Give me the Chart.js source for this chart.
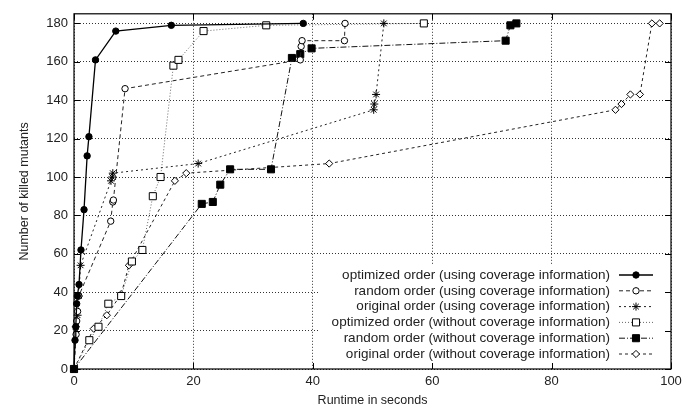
<!DOCTYPE html>
<html>
<head>
<meta charset="utf-8">
<script src="https://cdn.jsdelivr.net/npm/chart.js@4"></script>
<style>
  html, body { margin: 0; padding: 0; background: #fff; }
  #wrap { width: 697px; height: 412px; }
</style>
</head>
<body>
<div id="wrap"><canvas id="chart"></canvas></div>
<script>
// runtime (s) and killed mutants, per ordering
const optCovX = [0, 0.17, 0.3, 0.45, 0.56, 0.84, 1.17, 1.68, 2.2, 2.5, 3.6, 7.0, 16.3, 38.4];
const optCovY = [0, 15, 22, 34, 38, 44, 62, 83, 111, 121, 161, 176, 179, 180];
const rndCovX = [0, 0.35, 0.45, 0.6, 0.8, 6.15, 6.5, 6.6, 8.55, 37.9, 38.05, 38.2, 45.3, 45.4];
const rndCovY = [0, 18, 25, 30, 38, 77, 87, 88, 146, 161, 168, 171, 171, 180];
const orgCovX = [0, 0.3, 0.6, 0.8, 1.1, 6.2, 6.4, 6.5, 20.8, 50.2, 50.3, 50.6, 51.9];
const orgCovY = [0, 22, 28, 38, 54, 98, 100, 102, 107, 135, 138, 143, 180];
const optNoX = [0, 2.57, 4.1, 5.75, 7.9, 9.7, 11.45, 13.2, 14.5, 16.65, 17.5, 21.7, 32.2, 58.6];
const optNoY = [0, 15, 22, 34, 38, 56, 62, 90, 100, 158, 161, 176, 179, 180];
const rndNoX = [0, 21.4, 23.25, 24.5, 26.15, 33.0, 36.5, 37.9, 39.8, 72.3, 73.1, 74.1];
const rndNoY = [0, 86, 87, 96, 104, 104, 162, 164, 167, 171, 179, 180];
const orgNoX = [0, 3.3, 5.5, 7.9, 9.2, 16.9, 18.8, 42.75, 90.7, 91.7, 93.2, 94.8, 96.8, 98.1];
const orgNoY = [0, 21, 28, 39, 54, 98, 102, 107, 135, 138, 143, 143, 180, 180];

const seriesLabels = [
  "optimized order (using coverage information)",
  "random order (using coverage information)",
  "original order (using coverage information)",
  "optimized order (without coverage information)",
  "random order (without coverage information)",
  "original order (without coverage information)"
];
const xTicks = [0, 20, 40, 60, 80, 100];
const yTicks = [0, 20, 40, 60, 80, 100, 120, 140, 160, 180];

const FONT = "'Liberation Sans', Arial, sans-serif";

function pairs(xs, ys) {
  return xs.map((x, i) => ({ x, y: ys[i] }));
}

const styles = [
  { color: "#000", dash: [], width: 1.3, pointStyle: "circle", radius: 3.2, fill: "#000" },
  { color: "#222", dash: [4, 3], width: 1, pointStyle: "circle", radius: 3.2, fill: "#fff" },
  { color: "#222", dash: [2, 3], width: 1, pointStyle: "star", radius: 4, fill: "#fff" },
  { color: "#666", dash: [1, 2], width: 1, pointStyle: "rect", radius: 5, fill: "#fff" },
  { color: "#111", dash: [6, 2, 1, 2], width: 1, pointStyle: "rect", radius: 5, fill: "#000" },
  { color: "#222", dash: [3, 3], width: 1, pointStyle: "rectRot", radius: 3.6, fill: "#fff" }
];

const allData = [
  pairs(optCovX, optCovY), pairs(rndCovX, rndCovY), pairs(orgCovX, orgCovY),
  pairs(optNoX, optNoY), pairs(rndNoX, rndNoY), pairs(orgNoX, orgNoY)
];

const datasets = allData.map((d, i) => ({
  label: seriesLabels[i],
  data: d,
  borderColor: styles[i].color,
  borderWidth: styles[i].width,
  borderDash: styles[i].dash,
  pointStyle: styles[i].pointStyle,
  pointRadius: styles[i].radius,
  pointBackgroundColor: styles[i].fill,
  pointBorderColor: "#000",
  pointBorderWidth: 1,
  tension: 0,
  clip: false
}));

// legend box inside the plot (gnuplot style, text right of which the sample sits)
const legendBox = { left: 320, top: 265, textRight: 610, lineFrom: 619, lineTo: 653, firstRow: 275, rowGap: 15.8 };

const gnuplotFrame = {
  id: "gnuplotFrame",
  beforeDatasetsDraw(chart) {
    const { ctx, chartArea } = chart;
    ctx.save();
    ctx.fillStyle = "#fff";
    ctx.fillRect(legendBox.left, legendBox.top, chartArea.right - legendBox.left - 1, chartArea.bottom - legendBox.top - 1);
    ctx.restore();
  },
  afterDraw(chart) {
    const { ctx, chartArea, scales } = chart;
    const a = chartArea;
    ctx.save();
    ctx.strokeStyle = "#000";
    ctx.lineWidth = 1;
    ctx.setLineDash([]);
    const tl = 6;
    ctx.beginPath();
    xTicks.forEach(v => {
      const px = Math.round(scales.x.getPixelForValue(v)) + 0.5;
      ctx.moveTo(px, a.bottom); ctx.lineTo(px, a.bottom - tl);
      ctx.moveTo(px, a.top); ctx.lineTo(px, a.top + tl);
    });
    yTicks.forEach(v => {
      const py = Math.round(scales.y.getPixelForValue(v)) + 0.5;
      ctx.moveTo(a.left, py); ctx.lineTo(a.left + tl, py);
      ctx.moveTo(a.right, py); ctx.lineTo(a.right - tl, py);
    });
    ctx.stroke();
    ctx.lineWidth = 1.2;
    ctx.strokeRect(a.left, a.top, a.right - a.left, a.bottom - a.top);

    // legend
    ctx.font = "13.5px " + FONT;
    ctx.fillStyle = "#222";
    ctx.textAlign = "right";
    ctx.textBaseline = "middle";
    chart.data.datasets.forEach((ds, i) => {
      const y = legendBox.firstRow + i * legendBox.rowGap;
      ctx.fillText(ds.label, legendBox.textRight, y);
      ctx.save();
      ctx.strokeStyle = ds.borderColor;
      ctx.lineWidth = ds.borderWidth;
      ctx.setLineDash(ds.borderDash);
      ctx.beginPath();
      ctx.moveTo(legendBox.lineFrom, y);
      ctx.lineTo(legendBox.lineTo, y);
      ctx.stroke();
      ctx.setLineDash([]);
      ctx.fillStyle = ds.pointBackgroundColor;
      ctx.strokeStyle = "#000";
      ctx.lineWidth = 1;
      Chart.helpers.drawPoint(ctx, {
        pointStyle: ds.pointStyle,
        radius: ds.pointRadius,
        rotation: 0,
        borderWidth: 1
      }, (legendBox.lineFrom + legendBox.lineTo) / 2, y);
      ctx.restore();
    });
    ctx.restore();
  }
};

new Chart(document.getElementById("chart"), {
  type: "line",
  data: { datasets },
  options: {
    responsive: true,
    maintainAspectRatio: false,
    animation: false,
    layout: { padding: { left: 0, right: 26, top: 7, bottom: 0 } },
    plugins: { legend: { display: false }, tooltip: { enabled: false } },
    scales: {
      x: {
        type: "linear",
        min: 0,
        max: 100,
        afterBuildTicks: s => { s.ticks = xTicks.map(v => ({ value: v })); },
        afterFit: s => { s.height = 43; },
        grid: { color: "#333", lineWidth: 1, drawTicks: false },
        border: { display: false, dash: [1, 2] },
        ticks: { color: "#222", padding: 5, font: { family: FONT, size: 13 }, maxRotation: 0 },
        title: { display: true, text: "Runtime in seconds", color: "#222", font: { family: FONT, size: 12.5 }, padding: { top: 0, bottom: 4 } }
      },
      y: {
        type: "linear",
        min: 0,
        max: 185,
        afterBuildTicks: s => { s.ticks = yTicks.map(v => ({ value: v })); },
        afterFit: s => { s.width = 74; },
        grid: { color: "#333", lineWidth: 1, drawTicks: false },
        border: { display: false, dash: [1, 2] },
        ticks: { color: "#222", padding: 6, font: { family: FONT, size: 13 } },
        title: { display: true, text: "Number of killed mutants", color: "#222", font: { family: FONT, size: 12.5 }, padding: { top: 17, bottom: 0 } }
      }
    }
  },
  plugins: [gnuplotFrame]
});
</script>
</body>
</html>
